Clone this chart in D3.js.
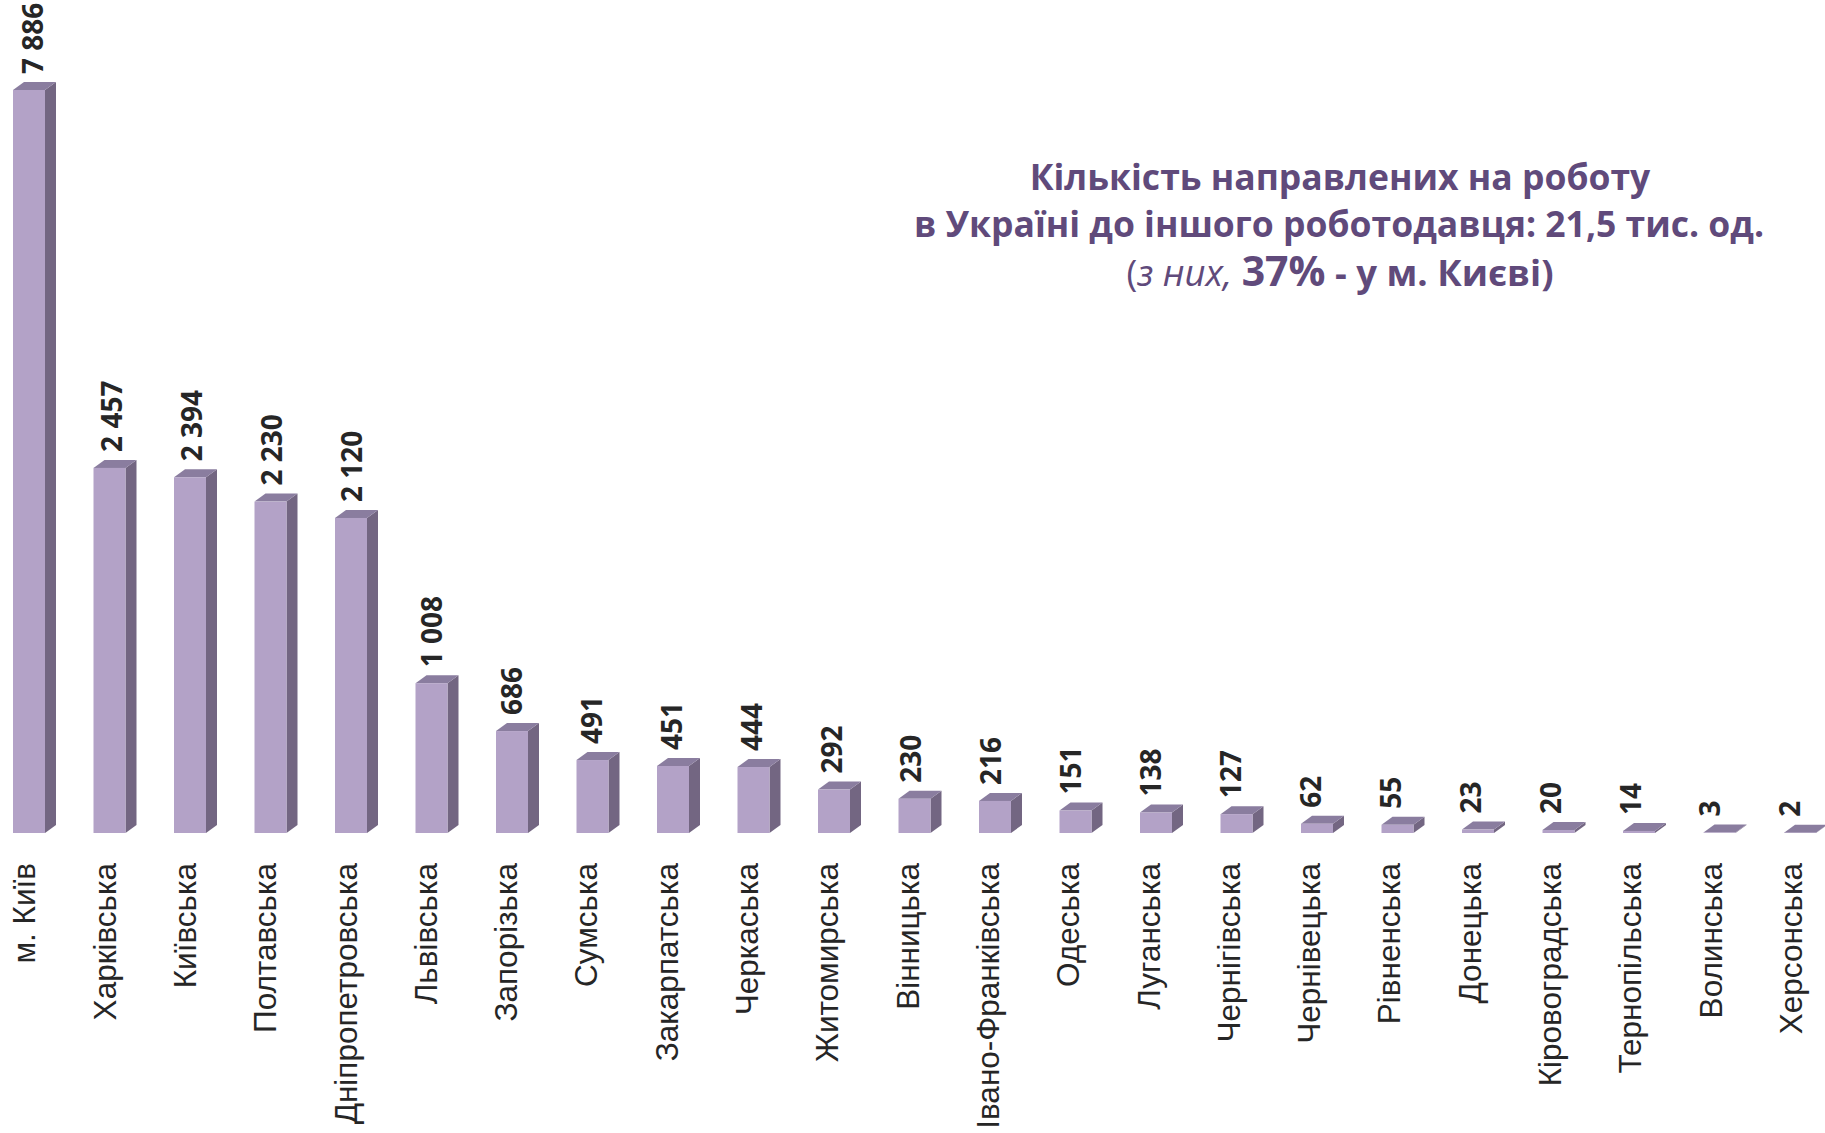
<!DOCTYPE html>
<html>
<head>
<meta charset="utf-8">
<script src="https://cdn.jsdelivr.net/npm/d3@7"></script>
<style>
  body { margin: 0; background: #fff; }
</style>
</head>
<body>
<div id="chart"></div>
<script>
// data
var regions = ['м. Київ', 'Харківська', 'Київська', 'Полтавська', 'Дніпропетровська',
  'Львівська', 'Запорізька', 'Сумська', 'Закарпатська', 'Черкаська', 'Житомирська',
  'Вінницька', 'Івано-Франківська', 'Одеська', 'Луганська', 'Чернігівська',
  'Чернівецька', 'Рівненська', 'Донецька', 'Кіровоградська', 'Тернопільська',
  'Волинська', 'Херсонська'];
var counts = [7886, 2457, 2394, 2230, 2120, 1008, 686, 491, 451, 444, 292,
  230, 216, 151, 138, 127, 62, 55, 23, 20, 14, 3, 2];
var axis_max = 5000; // Kyiv bar is cut off at the top of the plot

var data = regions.map(function(r, i) {
  return { key: i, name: r, num: counts[i] };
});

var chart_width = 1825;
var chart_height = 1133;
var bar_width = 32;
var depth_x = 11;
var depth_y = 8;
var purple_dark = '#604A7B';

var svg = d3.select('#chart')
  .append('svg')
  .attr('width', chart_width)
  .attr('height', chart_height)
  .style('font-family', '"Liberation Sans", Arial, sans-serif');

svg.append('rect')
  .attr('width', chart_width)
  .attr('height', chart_height)
  .attr('fill', '#fff');

// create scales
var step = 80.5;
var x_scale = d3.scaleBand()
  .domain(d3.range(data.length))
  .range([13, 13 + (data.length - 1) * step + bar_width])
  .paddingInner(1 - bar_width / step)
  .paddingOuter(0);

// labels sit on a slightly tighter spacing (perspective of the 3d chart)
var value_x = d3.scalePoint()
  .domain(d3.range(data.length))
  .range([32.5, 32.5 + (data.length - 1) * 79.9]);

var name_x = d3.scalePoint()
  .domain(d3.range(data.length))
  .range([24, 24 + (data.length - 1) * 80.3]);

var y_scale = d3.scaleLinear()
  .domain([0, axis_max])
  .range([833, 90])
  .clamp(true);

var fmt = d3.formatLocale({
  decimal: ',',
  thousands: ' ',
  grouping: [3],
  currency: ['', '']
}).format(',d');

// bars: front, side and top faces
var bars = svg.selectAll('g.bar')
  .data(data, function(d) { return d.key; })
  .enter()
  .append('g')
  .attr('class', 'bar');

bars.append('polygon')
  .attr('points', function(d, i) {
    var x1 = x_scale(i) + bar_width;
    var yt = y_scale(d.num), yb = y_scale(0);
    return [[x1, yt], [x1 + depth_x, yt - depth_y], [x1 + depth_x, yb - depth_y], [x1, yb]].join(' ');
  })
  .attr('fill', '#736682');

bars.append('polygon')
  .attr('points', function(d, i) {
    var x0 = x_scale(i), x1 = x0 + bar_width;
    var yt = y_scale(d.num);
    return [[x0, yt], [x0 + depth_x, yt - depth_y], [x1 + depth_x, yt - depth_y], [x1, yt]].join(' ');
  })
  .attr('fill', '#8A7D9F');

bars.append('rect')
  .attr('x', function(d, i) { return x_scale(i); })
  .attr('y', function(d) { return y_scale(d.num); })
  .attr('width', bar_width)
  .attr('height', function(d) { return y_scale(0) - y_scale(d.num); })
  .attr('fill', '#B3A2C7');

// value labels
svg.selectAll('text.value')
  .data(data)
  .enter()
  .append('text')
  .attr('class', 'value')
  .text(function(d) { return fmt(d.num); })
  .attr('transform', function(d, i) {
    return 'translate(' + value_x(i) + ',' + (y_scale(d.num) - depth_y - 8) + ') rotate(-90)';
  })
  .attr('dy', '0.36em')
  .attr('text-anchor', 'start')
  .attr('font-family', '"Open Sans", sans-serif')
  .attr('font-size', '28px')
  .attr('font-weight', 'bold')
  .attr('fill', '#262626');

// category labels
svg.selectAll('text.name')
  .data(data)
  .enter()
  .append('text')
  .attr('class', 'name')
  .text(function(d) { return d.name; })
  .attr('transform', function(d, i) {
    return 'translate(' + name_x(i) + ',863) rotate(-90)';
  })
  .attr('dy', '0.36em')
  .attr('text-anchor', 'end')
  .attr('font-size', '31.5px')
  .attr('fill', '#262626');

// title
var title = svg.append('g')
  .attr('font-family', '"Open Sans", sans-serif')
  .attr('fill', purple_dark)
  .attr('text-anchor', 'middle');

title.append('text')
  .attr('x', 1340)
  .attr('y', 190)
  .attr('font-size', '35.5px')
  .attr('font-weight', 'bold')
  .text('Кількість направлених на роботу');

title.append('text')
  .attr('x', 1339)
  .attr('y', 237)
  .attr('font-size', '35.5px')
  .attr('font-weight', 'bold')
  .text('в Україні до іншого роботодавця: 21,5 тис. од.');

var line3 = title.append('text')
  .attr('x', 1340)
  .attr('y', 286)
  .attr('font-size', '36.5px');
line3.append('tspan').text('(');
line3.append('tspan').attr('font-style', 'italic').text('з них, ');
line3.append('tspan').attr('font-weight', 'bold').attr('font-size', '41px').text('37%');
line3.append('tspan').attr('font-weight', 'bold').text(' - у м. Києві)');
</script>
</body>
</html>
